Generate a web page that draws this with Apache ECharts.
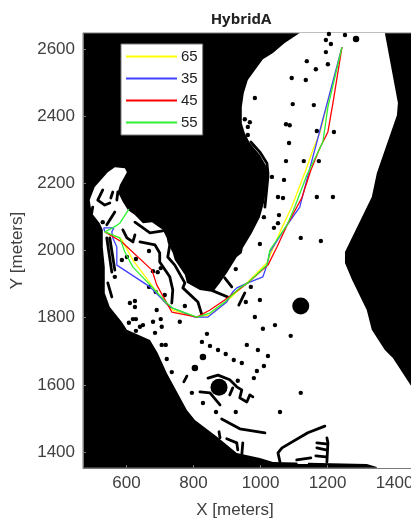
<!DOCTYPE html>
<html><head><meta charset="utf-8">
<style>html,body{margin:0;padding:0;background:#fff;overflow:hidden}#c{width:411px;height:522px}</style>
<script src="https://cdn.jsdelivr.net/npm/echarts@6/dist/echarts.min.js"></script>
</head><body><div id="c"></div>
<script>
const xTicks=[600,800,1000,1200,1400];
const yTicks=[1400,1600,1800,2000,2200,2400,2600];
const land=[[1117,2649],[1072,2619],[1037,2589],[1007,2571],[983,2538],[962,2509],[950,2470],[944,2428],[944,2380],[953,2351],[968,2321],[998,2285],[1019,2249],[1022,2211],[1010,2142],[998,2100],[974,2053],[947,2008],[944,1993],[929,1981],[899,1933],[885,1913],[879,1904],[858,1877],[819,1883],[780,1904],[774,1928],[744,1972],[738,1993],[723,2023],[720,2038],[708,2062],[676,2085],[649,2082],[625,2106],[604,2121],[589,2145],[574,2175],[580,2196],[601,2234],[595,2246],[565,2249],[544,2234],[505,2190],[490,2151],[496,2112],[520,2082],[529,2062],[529,2011],[535,1951],[535,1874],[550,1832],[586,1787],[601,1764],[670,1734],[693,1695],[720,1635],[780,1525],[804,1495],[870,1445],[929,1397],[998,1382],[1037,1370],[1317,1364],[1347,1355],[1347,1352],[1461,1352],[1461,1579],[1395,1680],[1371,1704],[1332,1764],[1317,1823],[1273,1913],[1252,1963],[1252,1996],[1332,2160],[1347,2231],[1371,2300],[1407,2404],[1410,2440],[1371,2649]];
const hole=[[1108,1373],[1144,1376],[1141,1364],[1111,1364]];
const dots=[[1204,2646],[1252,2643],[1195,2628],[1210,2616],[1195,2592],[1138,2565],[1201,2556],[1165,2541],[1093,2515],[1135,2509],[983,2455],[1096,2437],[1159,2434],[953,2392],[968,2383],[1076,2377],[1087,2374],[962,2369],[1168,2357],[1219,2354],[962,2345],[1085,2321],[1076,2267],[1129,2267],[1174,2267],[1034,2220],[1070,2211],[1052,2160],[1067,2157],[1168,2160],[1216,2160],[1010,2100],[1055,2106],[1052,2082],[1040,2068],[1120,2038],[1180,2029],[998,2020],[926,1945],[971,1892],[998,1853],[956,1847],[983,1802],[1007,1767],[1043,1778],[1090,1746],[840,1752],[849,1716],[959,1719],[992,1704],[873,1704],[685,1755],[628,1761],[705,1719],[717,1719],[720,1677],[735,1638],[825,1728],[896,1692],[920,1674],[944,1665],[989,1641],[980,1620],[932,1612],[795,1576],[828,1546],[867,1519],[926,1519],[1022,1686],[1010,1656],[1120,1576],[1058,1519],[667,1999],[702,1948],[679,1939],[693,1936],[628,1975],[586,1972],[601,1981],[565,1922],[667,1892],[714,1868],[687,1877],[610,1844],[625,1832],[625,1850],[690,1823],[774,1835],[759,1788],[619,1796],[628,1796],[607,1785],[649,1778],[640,1773],[679,1788],[702,1796],[705,1773],[529,2085]];
const largeDots=[[1285,2631],[828,1683],[804,1650]];
const bigCircles=[[1120,1835],[876,1593]];
const walls=[
[[971,2324],[998,2294],[1019,2261],[1022,2231],[1022,2220],[1013,2130]],
[[893,1919],[914,1892]],[[858,1880],[902,1862]],[[953,1874],[935,1838]],
[[640,2026],[685,2017],[699,1993],[699,1966],[729,1922],[738,1883],[735,1844]],
[[729,2017],[723,1981],[744,1957],[774,1904],[768,1889],[813,1847],[825,1808]],
[[625,2085],[670,2053],[708,2059]],
[[589,2062],[601,2038],[619,2026],[625,2047]],
[[541,2038],[556,1936]],[[550,2038],[565,1942]],[[544,1904],[556,1862]],[[565,2115],[541,2077]],
[[529,2181],[514,2151],[535,2136],[550,2142]],[[559,2175],[553,2157]],[[574,2175],[571,2151]],[[499,2130],[496,2112]],
[[843,1620],[873,1629],[908,1615],[929,1594],[944,1585],[938,1561],[959,1549],[968,1570],[977,1564]],
[[908,1570],[917,1591]],[[819,1579],[849,1576],[879,1540]],
[[884,1498],[938,1469],[1013,1457]],[[876,1460],[879,1442]],[[899,1439],[929,1427],[932,1406]],[[947,1427],[944,1391]],
[[771,1609],[780,1626]],
[[1192,1477],[1141,1457],[1064,1412],[1052,1397],[1058,1370]],
[[1198,1442],[1201,1427],[1198,1370]],
[[1168,1427],[1195,1424]],[[1168,1412],[1195,1406]],[[1165,1388],[1195,1385]],
[[1108,1376],[1150,1382]]
];
const path65=[[535,2056],[580,2038],[586,2032],[619,1972],[708,1853],[738,1823],[810,1802],[849,1808],[899,1849],[962,1907],[1019,1963],[1058,2056],[1093,2130],[1135,2240],[1156,2300],[1177,2351],[1243,2607]];
const path35=[[535,2056],[532,2068],[562,2068],[556,2056],[559,2038],[571,2011],[571,1957],[670,1892],[729,1832],[804,1802],[843,1802],[899,1847],[917,1877],[929,1889],[962,1904],[1007,1922],[1019,1957],[1028,1996],[1079,2076],[1117,2130],[1138,2211],[1168,2324],[1243,2607]];
const path45=[[535,2056],[586,2026],[676,1942],[690,1898],[735,1817],[810,1802],[849,1823],[893,1853],[962,1904],[1022,1957],[1049,2011],[1079,2076],[1123,2157],[1150,2240],[1177,2306],[1201,2354],[1216,2440],[1243,2607]];
const path55=[[607,2124],[580,2082],[559,2068],[535,2056],[580,2038],[595,1996],[619,1951],[670,1898],[720,1844],[738,1829],[810,1802],[849,1814],[893,1847],[938,1889],[962,1904],[1019,1957],[1028,2002],[1079,2076],[1102,2130],[1138,2225],[1186,2324],[1201,2428],[1243,2607]];

const wallData=[];
walls.forEach(w=>{w.forEach(p=>wallData.push(p));wallData.push([null,null]);});
const poly=(pts,z)=>({type:'custom',coordinateSystem:'cartesian2d',clip:true,silent:true,z:z,data:[0],
  renderItem:(p,api)=>({type:'polygon',shape:{points:pts.map(q=>api.coord(q))},style:{fill:'#fff'}})});
const route=(name,color,data,z)=>({type:'line',name,data,showSymbol:false,symbol:'none',z,clip:true,silent:true,
  lineStyle:{color,width:1.3},itemStyle:{color}});
const axisText={color:'#404040',fontFamily:'Liberation Sans',fontSize:17};
const gray='#7a7a7a';
const chart=echarts.init(document.getElementById('c'),null,{renderer:'canvas'});
chart.setOption({animation:false,backgroundColor:'#fff',
 title:{text:'HybridA',left:236,top:7,textAlign:'center',textStyle:{fontFamily:'Open Sans',fontWeight:'bold',fontSize:15,color:'#222'}},
 grid:{left:83,top:33,width:332,height:435,show:true,backgroundColor:'#000',borderColor:gray,borderWidth:1,containLabel:false,outerBoundsMode:'none'},
 legend:{left:121,top:44,orient:'vertical',padding:[5,5,5,4],itemWidth:51,itemHeight:14,itemGap:7,backgroundColor:'#fff',borderColor:gray,borderWidth:1,
  itemStyle:{opacity:0},
  data:['65','35','45','55'],textStyle:{fontFamily:'Liberation Sans',fontSize:15,color:'#222',padding:[0,0,0,-1]},selectedMode:false,z:20},
 xAxis:{type:'value',min:470,max:1461,name:'X [meters]',nameLocation:'middle',nameGap:34,nameTextStyle:{...axisText,padding:[0,28,0,0]},
  axisLine:{show:true,lineStyle:{color:gray}},splitLine:{show:false},
  axisTick:{inside:true,length:3,lineStyle:{color:gray},customValues:xTicks},
  axisLabel:{...axisText,margin:7,customValues:xTicks,hideOverlap:false,formatter:v=>String(v)}},
 yAxis:{type:'value',min:1352,max:2649,name:'Y [meters]',nameLocation:'middle',nameGap:52,nameTextStyle:{...axisText},
  axisLine:{show:true,lineStyle:{color:gray}},splitLine:{show:false},
  axisTick:{inside:true,length:3,lineStyle:{color:gray},customValues:yTicks},
  axisLabel:{...axisText,margin:8,customValues:yTicks,formatter:v=>String(v)}},
 series:[
  poly(land,2),poly(hole,3),
  {type:'line',data:wallData,connectNulls:false,showSymbol:false,symbol:'none',z:4,silent:true,clip:true,lineStyle:{color:'#000',width:2.8,cap:'round',join:'round'}},
  {type:'scatter',data:dots,symbol:'circle',symbolSize:4.4,z:4,silent:true,itemStyle:{color:'#000',opacity:1}},
  {type:'scatter',data:largeDots,symbol:'circle',symbolSize:6.5,z:4,silent:true,itemStyle:{color:'#000',opacity:1}},
  {type:'scatter',data:bigCircles,symbol:'circle',symbolSize:17,z:4,silent:true,itemStyle:{color:'#000',opacity:1}},
  route('65','#ffff00',path65,5),
  route('35','#4040ff',path35,6),
  route('45','#ff0000',path45,7),
  route('55','#30f030',path55,8)
 ]});
</script></body></html>
